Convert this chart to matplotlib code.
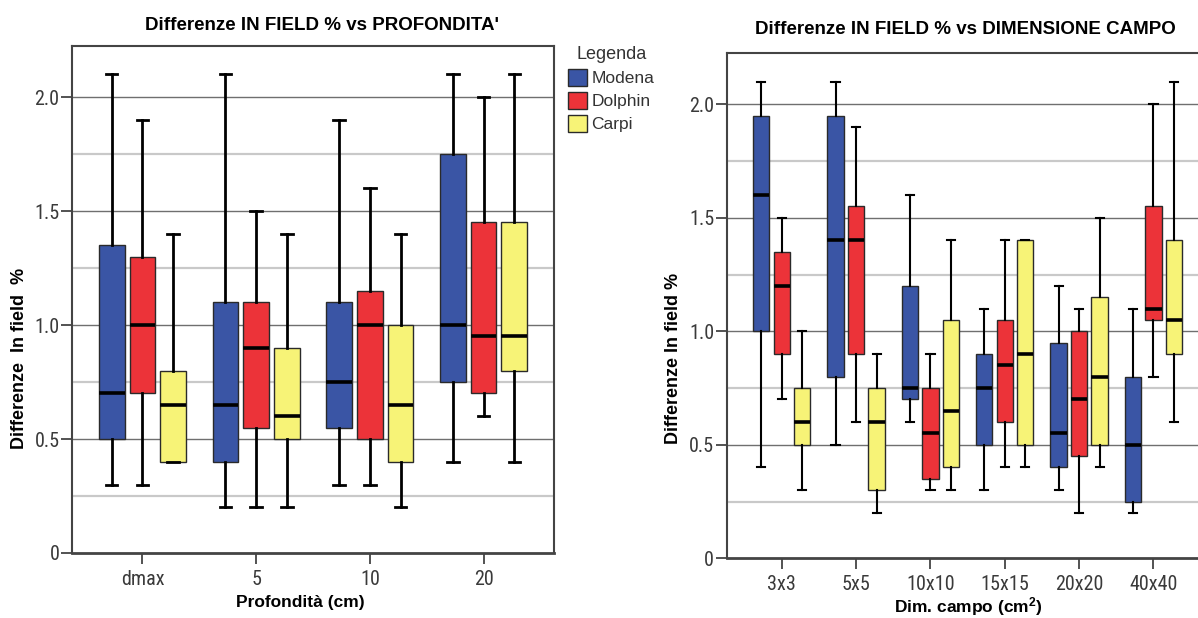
import matplotlib
matplotlib.use("Agg")
import matplotlib.pyplot as plt
from matplotlib.patches import Patch
from matplotlib import font_manager
from matplotlib.font_manager import FontProperties

# ---------------- data ----------------
depth_labels = ["dmax", "5", "10", "20"]
field_labels = ["3x3", "5x5", "10x10", "15x15", "20x20", "40x40"]
series_names = ["Modena", "Dolphin", "Carpi"]

# Profondita' chart: whisker low, Q1, median, Q3, whisker high
modena_depth_lo = [0.3, 0.2, 0.3, 0.4]
modena_depth_q1 = [0.5, 0.4, 0.55, 0.75]
modena_depth_med = [0.7, 0.65, 0.75, 1.0]
modena_depth_q3 = [1.35, 1.1, 1.1, 1.75]
modena_depth_hi = [2.1, 2.1, 1.9, 2.1]

dolphin_depth_lo = [0.3, 0.2, 0.3, 0.6]
dolphin_depth_q1 = [0.7, 0.55, 0.5, 0.7]
dolphin_depth_med = [1.0, 0.9, 1.0, 0.95]
dolphin_depth_q3 = [1.3, 1.1, 1.15, 1.45]
dolphin_depth_hi = [1.9, 1.5, 1.6, 2.0]

carpi_depth_lo = [0.4, 0.2, 0.2, 0.4]
carpi_depth_q1 = [0.4, 0.5, 0.4, 0.8]
carpi_depth_med = [0.65, 0.6, 0.65, 0.95]
carpi_depth_q3 = [0.8, 0.9, 1.0, 1.45]
carpi_depth_hi = [1.4, 1.4, 1.4, 2.1]

# Dimensione campo chart
modena_field_lo = [0.4, 0.5, 0.6, 0.3, 0.3, 0.2]
modena_field_q1 = [1.0, 0.8, 0.7, 0.5, 0.4, 0.25]
modena_field_med = [1.6, 1.4, 0.75, 0.75, 0.55, 0.5]
modena_field_q3 = [1.95, 1.95, 1.2, 0.9, 0.95, 0.8]
modena_field_hi = [2.1, 2.1, 1.6, 1.1, 1.2, 1.1]

dolphin_field_lo = [0.7, 0.6, 0.3, 0.4, 0.2, 0.8]
dolphin_field_q1 = [0.9, 0.9, 0.35, 0.6, 0.45, 1.05]
dolphin_field_med = [1.2, 1.4, 0.55, 0.85, 0.7, 1.1]
dolphin_field_q3 = [1.35, 1.55, 0.75, 1.05, 1.0, 1.55]
dolphin_field_hi = [1.5, 1.9, 0.9, 1.4, 1.1, 2.0]

carpi_field_lo = [0.3, 0.2, 0.3, 0.4, 0.4, 0.6]
carpi_field_q1 = [0.5, 0.3, 0.4, 0.5, 0.5, 0.9]
carpi_field_med = [0.6, 0.6, 0.65, 0.9, 0.8, 1.05]
carpi_field_q3 = [0.75, 0.75, 1.05, 1.4, 1.15, 1.4]
carpi_field_hi = [1.0, 0.9, 1.4, 1.4, 1.5, 2.1]

ytick_values = [0, 0.5, 1.0, 1.5, 2.0]
ytick_labels = ["0", "0.5", "1.0", "1.5", "2.0"]

# ---------------- style ----------------
colors = ["#3A55A5", "#EC3339", "#F7F377"]
available = {f.name for f in font_manager.fontManager.ttflist}
tick_font = None
for cand in ["Liberation Sans Narrow", "Roboto Condensed", "Open Sans Condensed"]:
    if cand in available:
        tick_font = FontProperties(family=cand)
        break
if tick_font is None:
    fp = FontProperties(family="DejaVu Sans", stretch="condensed")
    path = font_manager.findfont(fp, fallback_to_default=True)
    if "Condensed" in path:
        tick_font = fp
    else:
        tick_font = FontProperties(family="Liberation Sans")

plt.rcParams["font.family"] = ["Liberation Sans", "DejaVu Sans"]
plt.rcParams["mathtext.fontset"] = "custom"
plt.rcParams["mathtext.bf"] = "Liberation Sans:bold"
plt.rcParams["mathtext.rm"] = "Liberation Sans"

W, H = 1198, 618
fig = plt.figure(figsize=(W / 100, H / 100), dpi=100)
TICK_SIZE = 14.5


def stats(lo, q1, med, q3, hi):
    return [dict(whislo=a, q1=b, med=c, q3=d, whishi=e, fliers=[])
            for a, b, c, d, e in zip(lo, q1, med, q3, hi)]


def draw(ax, cats, series, offset, width, capw, wlw, xlim, ylim, right_spine):
    for y in [0.25, 0.75, 1.25, 1.75]:
        ax.axhline(y, color="#c9c9c9", lw=1.6, zorder=0)
    for y in [0.5, 1.0, 1.5, 2.0]:
        ax.axhline(y, color="#6f6f6f", lw=1.0, zorder=0)
    for k, st in enumerate(series):
        pos = [i + (k - 1) * offset for i in range(len(cats))]
        b = ax.bxp(st, positions=pos, widths=width, capwidths=capw,
                   patch_artist=True, showfliers=False, manage_ticks=False,
                   boxprops=dict(facecolor=colors[k], edgecolor="#2a2a2a", lw=1.0),
                   whiskerprops=dict(color="black", lw=wlw),
                   capprops=dict(color="black", lw=wlw),
                   medianprops=dict(color="black", lw=2.6, solid_capstyle="butt"))
        for p in b["boxes"]:
            p.set_zorder(2)
    ax.set_xlim(*xlim)
    ax.set_ylim(*ylim)
    ax.set_xticks(range(len(cats)))
    ax.set_xticklabels(cats)
    ax.set_yticks(ytick_values)
    ax.set_yticklabels(ytick_labels)
    ax.tick_params(axis="both", direction="out", length=8, width=1.3,
                   color="#444444", labelcolor="#3a3a3a")
    ax.tick_params(axis="y", pad=1)
    ax.tick_params(axis="x", pad=4)
    for lab in ax.get_xticklabels() + ax.get_yticklabels():
        lab.set_fontproperties(tick_font)
        lab.set_fontsize(TICK_SIZE)
    for s in ["left", "bottom", "top", "right"]:
        ax.spines[s].set_color("#444444")
        ax.spines[s].set_linewidth(1.5)
    ax.spines["bottom"].set_linewidth(2.0)
    ax.spines["right"].set_visible(right_spine)


# left chart
ax1 = fig.add_axes([72 / W, 1 - 553 / H, (554 - 72) / W, (553 - 46) / H])
draw(ax1, depth_labels,
     [stats(modena_depth_lo, modena_depth_q1, modena_depth_med, modena_depth_q3, modena_depth_hi),
      stats(dolphin_depth_lo, dolphin_depth_q1, dolphin_depth_med, dolphin_depth_q3, dolphin_depth_hi),
      stats(carpi_depth_lo, carpi_depth_q1, carpi_depth_med, carpi_depth_q3, carpi_depth_hi)],
     offset=0.27, width=0.225, capw=0.1, wlw=2.0,
     xlim=(-0.62, 3.62), ylim=(0, 2.224), right_spine=True)

# right chart
ax2 = fig.add_axes([726.7 / W, 1 - 558.3 / H, (1208.5 - 726.7) / W, (558.3 - 52.7) / H])
draw(ax2, field_labels,
     [stats(modena_field_lo, modena_field_q1, modena_field_med, modena_field_q3, modena_field_hi),
      stats(dolphin_field_lo, dolphin_field_q1, dolphin_field_med, dolphin_field_q3, dolphin_field_hi),
      stats(carpi_field_lo, carpi_field_q1, carpi_field_med, carpi_field_q3, carpi_field_hi)],
     offset=0.276, width=0.22, capw=0.11, wlw=1.5,
     xlim=(-0.74, 5.74), ylim=(0, 2.227), right_spine=False)

# titles and labels
fig.text(322 / W, 1 - 26 / H, "Differenze IN FIELD % vs PROFONDITA'", ha="center", va="center",
         fontsize=13.5, fontweight="bold")
fig.text(965 / W, 1 - 30 / H, "Differenze IN FIELD % vs DIMENSIONE CAMPO", ha="center", va="center",
         fontsize=13.5, fontweight="bold")
fig.text(300 / W, 1 - 602 / H, "Profondità (cm)", ha="center", va="center",
         fontsize=12.5, fontweight="bold")
fig.text(968 / W, 1 - 607 / H, r"Dim. campo (cm$\mathbf{^2}$)", ha="center", va="center",
         fontsize=12.5, fontweight="bold")
fig.text(20 / W, 1 - 358 / H, "Differenze  In field  %", ha="center", va="center",
         rotation=90, fontsize=13, fontweight="bold")
fig.text(673 / W, 1 - 358 / H, "Differenze In field %", ha="center", va="center",
         rotation=90, fontsize=13, fontweight="bold")

handles = [Patch(facecolor=c, edgecolor="#2a2a2a", lw=1.0) for c in colors]
leg = fig.legend(handles, series_names, title="Legenda", loc="upper left",
                 bbox_to_anchor=(568 / W, 1 - 46 / H), frameon=False,
                 fontsize=12.5, title_fontsize=13, handlelength=1.1, handleheight=1.15,
                 handletextpad=0.25, labelspacing=0.32, borderpad=0, borderaxespad=0)
for t in leg.get_texts():
    t.set_color("#333333")
leg.get_title().set_color("#333333")

fig.savefig("out.png", dpi=100)
